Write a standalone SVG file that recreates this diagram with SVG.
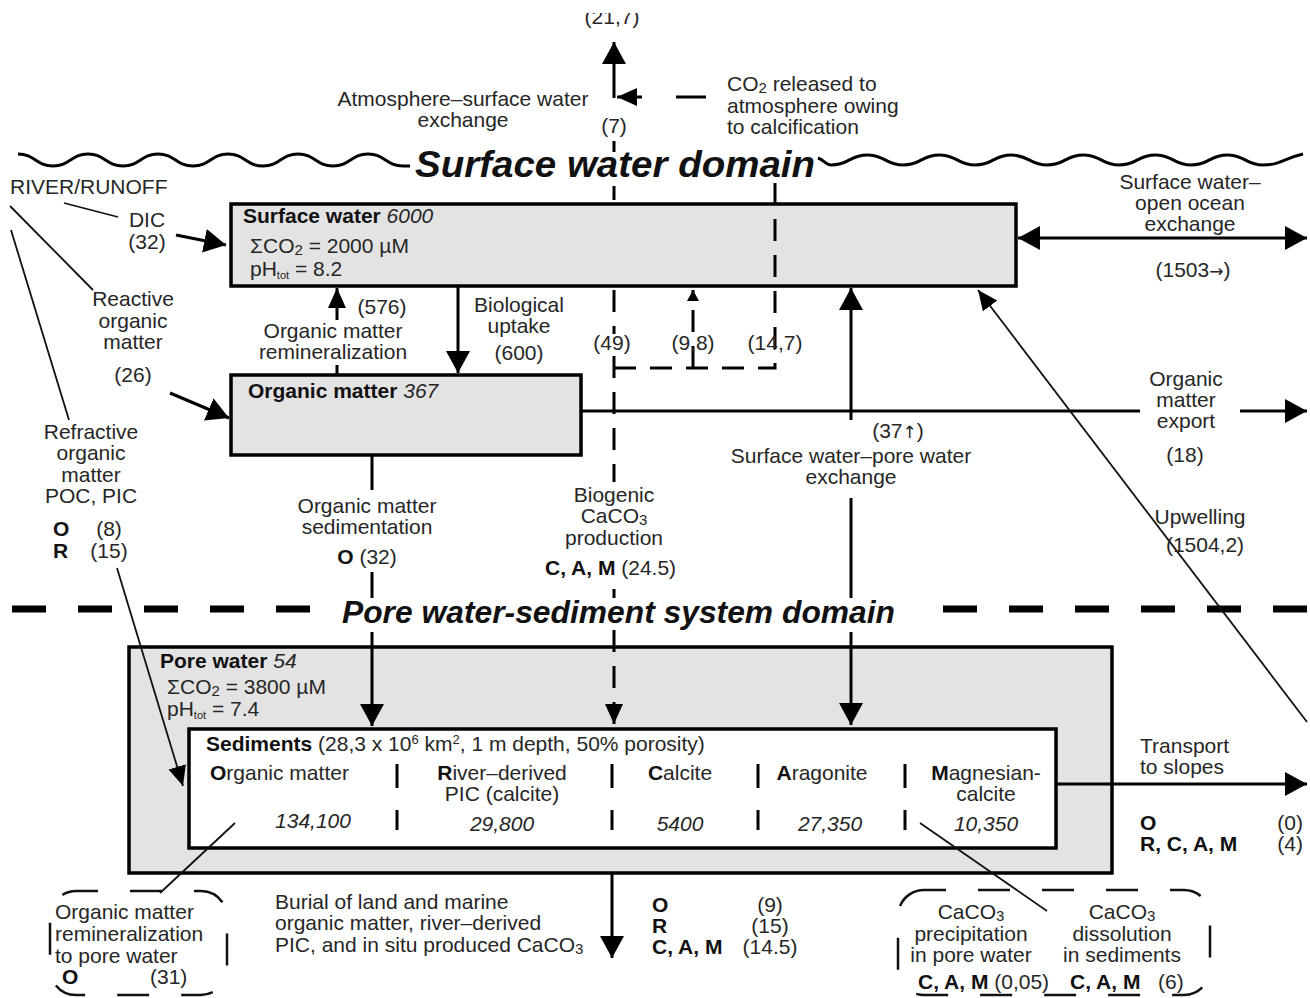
<svg xmlns="http://www.w3.org/2000/svg" width="1310" height="998" viewBox="0 0 1310 998">
<defs>
<style>
.t{font-family:"Liberation Sans",Arial,Helvetica,sans-serif;font-size:21px;fill:#262626}
.m{text-anchor:middle}
.e{text-anchor:end}
.b{font-weight:bold;fill:#111}
.i{font-style:italic}
.ar{font-family:"DejaVu Sans",sans-serif;font-size:17px}
.sub{font-size:15px}
.dom{font-family:"Liberation Sans",Arial,Helvetica,sans-serif;font-weight:bold;font-style:italic;fill:#111}
.box{fill:#e3e3e3;stroke:#000;stroke-width:3.5}
.sed{fill:#fff;stroke:#000;stroke-width:3.5}
.ln{fill:none;stroke:#000;stroke-width:3}
.thin{fill:none;stroke:#111;stroke-width:1.8}
.dash{fill:none;stroke:#000;stroke-width:3;stroke-dasharray:22 14}
.sep{stroke:#000;stroke-width:3}
.rbox{fill:none;stroke:#111;stroke-width:2.5;stroke-dasharray:32 32}
</style>
<clipPath id="topclip"><rect x="0" y="13" width="1310" height="40"/></clipPath>
<marker id="ah" markerWidth="24" markerHeight="26" refX="22" refY="12" orient="auto-start-reverse" markerUnits="userSpaceOnUse"><path d="M0,0 L22,12 L0,24 z" fill="#000"/></marker>
<marker id="am" markerWidth="22" markerHeight="20" refX="20" refY="9" orient="auto" markerUnits="userSpaceOnUse"><path d="M0,0 L20,9 L0,18 z" fill="#000"/></marker>
<marker id="as" markerWidth="14" markerHeight="14" refX="11" refY="6" orient="auto" markerUnits="userSpaceOnUse"><path d="M0,0 L11,6 L0,12 z" fill="#000"/></marker>
</defs>
<rect width="1310" height="998" fill="#fff"/>

<!-- domain boundaries -->
<g id="surface-boundary">
<path class="ln" stroke-width="3.5" d="M18,154 C35,154 36,166 53,166 C70,166 71,154 88,154 C105,154 106,166 123,166 C140,166 141,154 158,154 C175,154 176,166 193,166 C210,166 211,154 228,154 C245,154 246,166 263,166 C280,166 281,154 298,154 C315,154 316,166 333,166 C350,166 351,154 368,154 C385,154 386,166 403,166 L410,166"/>
<path class="ln" stroke-width="3.5" d="M818,158 C824,160 826,165 831,165 C849,165 850,155 867,155 C885,155 886,165 903,165 C921,165 922,155 939,155 C957,155 958,165 975,165 C993,165 994,155 1011,155 C1029,155 1030,165 1047,165 C1065,165 1066,155 1083,155 C1101,155 1102,165 1119,165 C1137,165 1138,155 1155,155 C1173,155 1174,165 1191,165 C1209,165 1210,155 1227,155 C1245,155 1246,165 1263,165 C1281,165 1285,158 1303,154"/>
<text class="dom" x="415" y="177" font-size="36" textLength="400" lengthAdjust="spacingAndGlyphs">Surface water domain</text>
</g>
<g id="pore-boundary">
<path fill="none" stroke="#000" stroke-width="7" stroke-dasharray="34 32" d="M12,609 H330"/>
<path fill="none" stroke="#000" stroke-width="7" stroke-dasharray="34 32" d="M943,609 H1310"/>
<text class="dom" x="342" y="623" font-size="32" textLength="553" lengthAdjust="spacingAndGlyphs">Pore water-sediment system domain</text>
</g>

<!-- nodes -->
<g id="surface-water">
<rect class="box" x="231" y="204" width="785" height="82"/>
<text class="t" x="243" y="223"><tspan class="b">Surface water</tspan><tspan class="i"> 6000</tspan></text>
<text class="t" x="250" y="253">ΣCO<tspan class="sub" dy="2">2</tspan><tspan dy="-2"> = 2000 µM</tspan></text>
<text class="t" x="250" y="276">pH<tspan font-size="11" dy="3">tot</tspan><tspan dy="-3"> = 8.2</tspan></text>
</g>
<g id="organic-matter">
<rect class="box" x="231" y="375" width="350" height="80"/>
<text class="t" x="248" y="398"><tspan class="b">Organic matter</tspan><tspan class="i"> 367</tspan></text>
</g>
<g id="pore-water">
<rect class="box" x="129" y="647" width="983" height="226"/>
<text class="t" x="160" y="668"><tspan class="b">Pore water</tspan><tspan class="i"> 54</tspan></text>
<text class="t" x="167" y="694">ΣCO<tspan class="sub" dy="2">2</tspan><tspan dy="-2"> = 3800 µM</tspan></text>
<text class="t" x="167" y="716">pH<tspan font-size="11" dy="3">tot</tspan><tspan dy="-3"> = 7.4</tspan></text>
</g>
<g id="sediments">
<rect class="sed" x="189" y="729" width="867" height="119"/>
<text class="t" x="206" y="751"><tspan class="b">Sediments</tspan> (28,3 x 10<tspan font-size="13" dy="-7">6</tspan><tspan dy="7"> km</tspan><tspan font-size="13" dy="-7">2</tspan><tspan dy="7">, 1 m  depth, 50% porosity)</tspan></text>
<text class="t" x="210" y="780"><tspan class="b">O</tspan>rganic matter</text>
<text class="t i m" x="313" y="828">134,100</text>
<text class="t m" x="502" y="780"><tspan class="b">R</tspan>iver–derived</text>
<text class="t m" x="502" y="801">PIC (calcite)</text>
<text class="t i m" x="502" y="831">29,800</text>
<text class="t m" x="680" y="780"><tspan class="b">C</tspan>alcite</text>
<text class="t i m" x="680" y="831">5400</text>
<text class="t m" x="822" y="780"><tspan class="b">A</tspan>ragonite</text>
<text class="t i m" x="830" y="831">27,350</text>
<text class="t m" x="986" y="780"><tspan class="b">M</tspan>agnesian-</text>
<text class="t m" x="986" y="801">calcite</text>
<text class="t i m" x="986" y="831">10,350</text>
<path class="sep" d="M397,764 V788 M397,810 V830 M612,764 V788 M612,810 V830 M758,764 V788 M758,810 V830 M905,764 V788 M905,810 V830"/>
</g>
<g id="om-remineralization-pore">
<rect class="rbox" x="50" y="891" width="177" height="104" rx="26" stroke-dashoffset="10"/>
<text class="t" x="55" y="919">Organic matter</text>
<text class="t" x="55" y="941">remineralization</text>
<text class="t" x="55" y="963">to pore water</text>
<text class="t b" x="62" y="984">O</text>
<text class="t" x="150" y="984">(31)</text>
</g>
<g id="caco3-pore">
<rect class="rbox" x="898" y="890" width="312" height="105" rx="26" stroke-dashoffset="10"/>
<text class="t m" x="971" y="919">CaCO<tspan class="sub" dy="2">3</tspan></text>
<text class="t m" x="971" y="941">precipitation</text>
<text class="t m" x="971" y="962">in pore water</text>
<text class="t" x="918" y="989"><tspan class="b">C, A, M</tspan> (0,05)</text>
<text class="t m" x="1122" y="919">CaCO<tspan class="sub" dy="2">3</tspan></text>
<text class="t m" x="1122" y="941">dissolution</text>
<text class="t m" x="1122" y="962">in sediments</text>
<text class="t" x="1070" y="989"><tspan class="b">C, A, M</tspan><tspan x="1158">(6)</tspan></text>
</g>
<g id="river-runoff">
<text class="t" x="10" y="194">RIVER/RUNOFF</text>
<text class="t m" x="147" y="227">DIC</text>
<text class="t m" x="147" y="249">(32)</text>
<text class="t m" x="133" y="306">Reactive</text>
<text class="t m" x="133" y="328">organic</text>
<text class="t m" x="133" y="349">matter</text>
<text class="t m" x="133" y="382">(26)</text>
<text class="t m" x="91" y="439">Refractive</text>
<text class="t m" x="91" y="460">organic</text>
<text class="t m" x="91" y="482">matter</text>
<text class="t m" x="91" y="503">POC, PIC</text>
<text class="t b" x="53" y="536">O</text>
<text class="t m" x="109" y="536">(8)</text>
<text class="t b" x="53" y="558">R</text>
<text class="t m" x="109" y="558">(15)</text>
</g>

<!-- connectors -->
<g id="connectors">
<line class="ln" x1="614" y1="98" x2="614" y2="42" marker-end="url(#ah)"/>
<path class="ln" stroke-dasharray="30 34" d="M706,97 H617" marker-end="url(#am)"/>
<path class="dash" d="M614,141 V152 M614,186 V200 M614,290 V334 M614,356 V482 M614,589 V598 M614,630 V724" marker-end="url(#am)"/>
<path class="dash" d="M775,183 V368 H614"/>
<path class="dash" d="M693,368 V290" marker-end="url(#as)"/>
<line class="ln" x1="337" y1="320" x2="337" y2="288" marker-end="url(#am)"/>
<line class="ln" x1="337" y1="365" x2="337" y2="375"/>
<line class="ln" x1="458" y1="286" x2="458" y2="373" marker-end="url(#ah)"/>
<line class="ln" x1="1018" y1="238" x2="1307" y2="238" marker-start="url(#ah)" marker-end="url(#ah)"/>
<line class="ln" x1="581" y1="411" x2="1140" y2="411"/>
<line class="ln" x1="1240" y1="411" x2="1307" y2="411" marker-end="url(#ah)"/>
<line class="ln" x1="851" y1="420" x2="851" y2="288" marker-end="url(#ah)"/>
<line class="ln" x1="851" y1="498" x2="851" y2="598"/>
<line class="ln" x1="851" y1="632" x2="851" y2="725" marker-end="url(#ah)"/>
<line class="thin" x1="1307" y1="722" x2="978" y2="290" marker-end="url(#am)"/>
<line class="ln" x1="372" y1="455" x2="372" y2="490"/>
<line class="ln" x1="372" y1="572" x2="372" y2="598"/>
<line class="ln" x1="372" y1="632" x2="372" y2="726" marker-end="url(#ah)"/>
<line class="ln" x1="176" y1="235" x2="226" y2="245" marker-end="url(#ah)"/>
<line class="ln" x1="170" y1="393" x2="229" y2="418" marker-end="url(#ah)"/>
<line class="thin" x1="64" y1="203" x2="118" y2="217"/>
<line class="thin" x1="10" y1="206" x2="93" y2="290"/>
<line class="thin" x1="11" y1="230" x2="69" y2="420"/>
<line class="thin" x1="117" y1="568" x2="183" y2="786" marker-end="url(#am)"/>
<line class="ln" stroke="#333" stroke-width="2.5" x1="1056" y1="784" x2="1307" y2="784" marker-end="url(#ah)"/>
<line class="ln" x1="612" y1="873" x2="612" y2="958" marker-end="url(#ah)"/>
<line class="thin" x1="235" y1="823" x2="160" y2="893"/>
<line class="thin" x1="920" y1="823" x2="1047" y2="911"/>
</g>

<!-- flow labels -->
<g id="labels">
<text class="t m" x="612" y="24" clip-path="url(#topclip)">(21,7)</text>
<text class="t m" x="463" y="106">Atmosphere–surface water</text>
<text class="t m" x="463" y="127">exchange</text>
<text class="t m" x="614" y="133">(7)</text>
<text class="t" x="727" y="91">CO<tspan class="sub" dy="2">2</tspan><tspan dy="-2"> released to</tspan></text>
<text class="t" x="727" y="113">atmosphere owing</text>
<text class="t" x="727" y="134">to calcification</text>
<text class="t m" x="382" y="314">(576)</text>
<text class="t m" x="333" y="338">Organic matter</text>
<text class="t m" x="333" y="359">remineralization</text>
<text class="t m" x="519" y="312">Biological</text>
<text class="t m" x="519" y="333">uptake</text>
<text class="t m" x="519" y="360">(600)</text>
<text class="t m" x="612" y="350">(49)</text>
<text class="t m" x="693" y="350">(9,8)</text>
<text class="t m" x="775" y="350">(14,7)</text>
<text class="t m" x="1190" y="189">Surface water–</text>
<text class="t m" x="1190" y="210">open ocean</text>
<text class="t m" x="1190" y="231">exchange</text>
<text class="t m" x="1193" y="277">(1503<tspan class="ar">→</tspan>)</text>
<text class="t m" x="1186" y="386">Organic</text>
<text class="t m" x="1186" y="407">matter</text>
<text class="t m" x="1186" y="428">export</text>
<text class="t m" x="1185" y="462">(18)</text>
<text class="t m" x="898" y="438">(37<tspan class="ar">↑</tspan>)</text>
<text class="t m" x="851" y="463">Surface water–pore water</text>
<text class="t m" x="851" y="484">exchange</text>
<text class="t m" x="1200" y="524">Upwelling</text>
<text class="t m" x="1205" y="552">(1504,2)</text>
<text class="t m" x="367" y="513">Organic matter</text>
<text class="t m" x="367" y="534">sedimentation</text>
<text class="t m" x="367" y="564"><tspan class="b">O</tspan> (32)</text>
<text class="t m" x="614" y="502">Biogenic</text>
<text class="t m" x="614" y="523">CaCO<tspan class="sub" dy="2">3</tspan></text>
<text class="t m" x="614" y="545">production</text>
<text class="t" x="545" y="575"><tspan class="b">C, A, M</tspan>  (24.5)</text>
<text class="t" x="1140" y="753">Transport</text>
<text class="t" x="1140" y="774">to slopes</text>
<text class="t b" x="1140" y="830">O</text>
<text class="t b" x="1140" y="851">R, C, A, M</text>
<text class="t e" x="1303" y="830">(0)</text>
<text class="t e" x="1303" y="851">(4)</text>
<text class="t" x="275" y="909">Burial of land and marine</text>
<text class="t" x="275" y="930">organic matter, river–derived</text>
<text class="t" x="275" y="952">PIC, and in situ produced CaCO<tspan class="sub" dy="2">3</tspan></text>
<text class="t b" x="652" y="912">O</text>
<text class="t b" x="652" y="933">R</text>
<text class="t b" x="652" y="954">C, A, M</text>
<text class="t m" x="770" y="912">(9)</text>
<text class="t m" x="770" y="933">(15)</text>
<text class="t m" x="770" y="954">(14.5)</text>
</g>
</svg>
